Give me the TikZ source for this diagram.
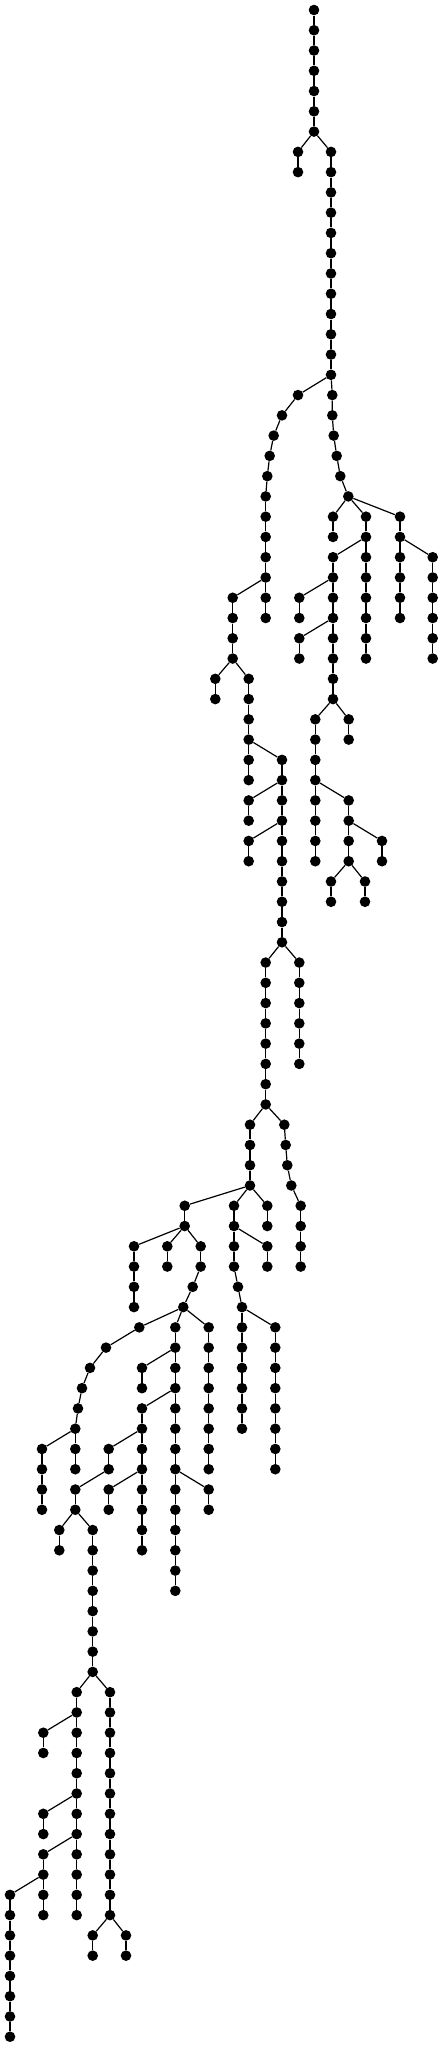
\documentclass[tikz,border=0pt]{standalone}
\usepackage{tikz}

% a straight run of dots: name, x, first level, last level, parent
\newcommand{\vchain}[5]{%
  \foreach \lv in {#3,...,#4} \node[dot] (#1\lv) at (#2,\lv) {};
  \draw[edge] (#5) -- (#1#3);
  \foreach \lv [evaluate=\lv as \pv using int(\lv-1)] in {#3,...,#4} {\ifnum\lv>#3\relax \draw[edge] (#1\pv) -- (#1\lv);\fi}%
}

\begin{document}
\begin{tikzpicture}[x=1pt,y=-20.267pt,
  dot/.style={circle,fill=black,inner sep=0pt,minimum size=10.6pt},
  edge/.style={line width=1.2pt}]
\useasboundingbox (0,-0.4934) rectangle (443,100.508);

% top
\node[dot] (r0) at (314,0) {};
\vchain{r}{314}{1}{6}{r0}
\vchain{b}{298}{7}{8}{r6}
\vchain{c}{331}{7}{18}{r6}

% split at level 18
\node[dot] (d19) at (298,19) {};
\node[dot] (d20) at (282,20) {};
\node[dot] (d21) at (273.7,21) {};
\node[dot] (d22) at (269.7,22) {};
\node[dot] (d23) at (267.3,23) {};
\draw[edge] (c18) -- (d19) -- (d20) -- (d21) -- (d22) -- (d23);
\vchain{d}{265.7}{24}{30}{d23}
\node[dot] (e19) at (332.3,19) {};
\node[dot] (e20) at (332.3,20) {};
\node[dot] (e21) at (333.7,21) {};
\node[dot] (e22) at (336.7,22) {};
\node[dot] (e23) at (340.3,23) {};
\node[dot] (e24) at (348.3,24) {};
\draw[edge] (c18) -- (e19) -- (e20) -- (e21) -- (e22) -- (e23) -- (e24);

% right part
\vchain{f}{333}{25}{26}{e24}
\vchain{g}{366}{25}{32}{e24}
\vchain{h}{400}{25}{30}{e24}
\vchain{j}{432.7}{27}{32}{h26}
\vchain{i}{333}{27}{34}{g26}
\vchain{k}{299.3}{29}{30}{i28}
\vchain{l}{299.3}{31}{32}{i30}
\vchain{m}{315.3}{35}{42}{i34}
\vchain{n}{348.7}{35}{36}{i34}
\vchain{o}{348.7}{39}{42}{m38}
\vchain{p}{382}{41}{42}{o40}
\vchain{q}{331}{43}{44}{o42}
\vchain{s}{365}{43}{44}{o42}

% left part
\vchain{u}{232.7}{29}{32}{d28}
\vchain{v}{215.3}{33}{34}{u32}
\vchain{w}{248.7}{33}{38}{u32}
\vchain{x}{282}{37}{46}{w36}
\vchain{y}{248.7}{39}{40}{x38}
\vchain{z}{248.7}{41}{42}{x40}
\vchain{aa}{265.7}{47}{54}{x46}
\vchain{ab}{299.3}{47}{52}{x46}
\vchain{ac}{250}{55}{58}{aa54}
\node[dot] (ad55) at (284.3,55) {};
\node[dot] (ad56) at (285.7,56) {};
\node[dot] (ad57) at (287.3,57) {};
\node[dot] (ad58) at (291.3,58) {};
\draw[edge] (aa54) -- (ad55) -- (ad56) -- (ad57) -- (ad58);
\vchain{ad}{300.7}{59}{62}{ad58}

% split at level 58
\vchain{ae}{184.7}{59}{60}{ac58}
\vchain{af}{234}{59}{62}{ac58}
\vchain{ag}{267.3}{59}{60}{ac58}
\vchain{ah}{267.3}{61}{62}{af60}
\node[dot] (af63) at (238,63) {};
\node[dot] (af64) at (242,64) {};
\draw[edge] (af62) -- (af63) -- (af64);
\vchain{ai}{242}{65}{70}{af64}
\vchain{aj}{275.3}{65}{72}{af64}
\vchain{ak}{134}{61}{64}{ae60}
\vchain{al}{167.3}{61}{62}{ae60}
\vchain{am}{200.7}{61}{62}{ae60}
\node[dot] (am63) at (192.7,63) {};
\node[dot] (am64) at (183.3,64) {};
\draw[edge] (am62) -- (am63) -- (am64);

% split at level 64
\node[dot] (an65) at (139.3,65) {};
\node[dot] (an66) at (106,66) {};
\node[dot] (an67) at (90,67) {};
\node[dot] (an68) at (82,68) {};
\node[dot] (an69) at (78,69) {};
\draw[edge] (am64) -- (an65) -- (an66) -- (an67) -- (an68) -- (an69);
\vchain{an}{75.3}{70}{72}{an69}
\vchain{bh}{42}{71}{74}{an70}
\vchain{ao}{175.3}{65}{78}{am64}
\vchain{ap}{208.7}{65}{72}{am64}
\vchain{ar}{142}{67}{68}{ao66}
\vchain{as}{142}{69}{76}{ao68}
\vchain{at}{208.7}{73}{74}{ao72}
\vchain{au}{108.7}{71}{72}{as70}
\vchain{av}{108.7}{73}{74}{as72}
\vchain{aw}{75.3}{73}{74}{au72}
\vchain{ax}{59.3}{75}{76}{aw74}
\vchain{ay}{92.7}{75}{82}{aw74}

% bottom
\vchain{az}{76.7}{83}{94}{ay82}
\vchain{ba}{110}{83}{94}{ay82}
\vchain{bb}{43.3}{85}{86}{az84}
\vchain{bc}{43.3}{89}{90}{az88}
\vchain{bd}{43.3}{91}{94}{az90}
\vchain{be}{10}{93}{100}{bd92}
\vchain{bf}{92.7}{95}{96}{ba94}
\vchain{bg}{126}{95}{96}{ba94}
\end{tikzpicture}
\end{document}
